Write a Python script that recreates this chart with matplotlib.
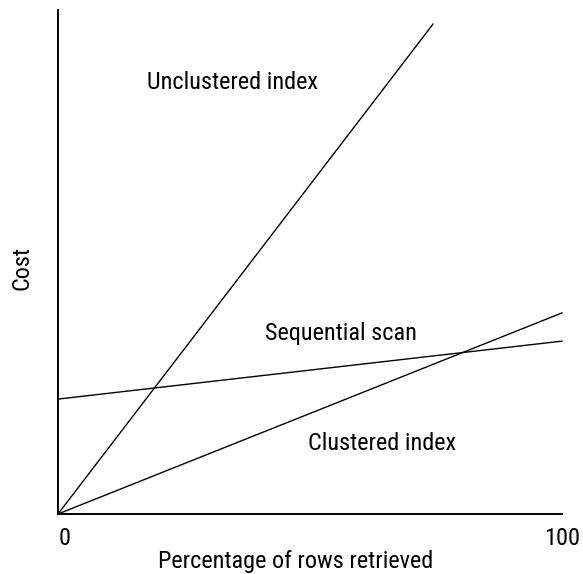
import matplotlib
matplotlib.use("Agg")
import matplotlib.pyplot as plt
import matplotlib.transforms as mtransforms

plt.rcParams['font.family'] = ['Roboto Condensed', 'DejaVu Sans']

# Cost curves (percentage of rows retrieved -> relative cost)
unclustered_x = [0, 74.4]
unclustered_y = [0, 97.2]
clustered_x = [0, 100]
clustered_y = [0, 39.9]
sequential_x = [0, 100]
sequential_y = [22.8, 34.3]

series_labels = ["Unclustered index", "Sequential scan", "Clustered index"]
tick_values = [0, 100]
tick_labels = ["0", "100"]

FS = 17.5

fig = plt.figure(figsize=(5.83, 5.74), dpi=100)
ax = fig.add_axes([58 / 583, 60 / 574, 504 / 583, 504 / 574])

for xs, ys in [(unclustered_x, unclustered_y), (clustered_x, clustered_y),
               (sequential_x, sequential_y)]:
    ax.plot(xs, ys, color="black", linewidth=1.0, clip_on=False)

ax.set_xlim(0, 100)
ax.set_ylim(0, 100)

for side in ("top", "right"):
    ax.spines[side].set_visible(False)
for side in ("left", "bottom"):
    ax.spines[side].set_linewidth(1.4)

ax.set_xticks(tick_values)
ax.set_xticklabels(tick_labels, fontsize=FS)
ax.set_yticks([])
ax.tick_params(axis="x", length=0, pad=9.5)
first = ax.get_xticklabels()[0]
first.set_transform(first.get_transform()
                    + mtransforms.ScaledTranslation(7 / 100, 0, fig.dpi_scale_trans))

ax.set_xlabel("Percentage of rows retrieved", fontsize=FS)
ax.xaxis.label.set_va("baseline")
ax.xaxis.set_label_coords(0.471, -0.107)
ax.set_ylabel("Cost", fontsize=FS)
ax.yaxis.label.set_va("center")
ax.yaxis.set_label_coords(-0.0724, 0.489)

ax.text(34.7, 84.3, series_labels[0], fontsize=FS, ha="center", va="baseline")
ax.text(56.05, 34.5, series_labels[1], fontsize=FS, ha="center", va="baseline")
ax.text(64.2, 12.7, series_labels[2], fontsize=FS, ha="center", va="baseline")

fig.savefig("out.png", dpi=100, facecolor="white")
